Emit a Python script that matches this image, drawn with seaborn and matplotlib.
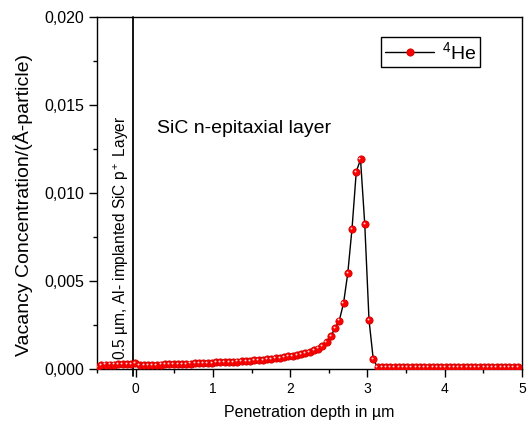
import numpy as np
import matplotlib
matplotlib.use("Agg")
import matplotlib.pyplot as plt
import matplotlib.transforms as mtransforms
from matplotlib.ticker import MultipleLocator, FuncFormatter
import seaborn as sns

# SRIM depth bins (0.055 um each), shifted by the 0.5 um p+ layer
depth_um = np.round(-0.5 + 0.055 * np.arange(100), 3)

vacancy = [
    0.00012, 0.00024, 0.00025, 0.00025, 0.00025, 0.00026, 0.00026, 0.00026, 0.00027, 0.00036,
    0.00020, 0.00021, 0.00022, 0.00023, 0.00024, 0.00025, 0.00026, 0.00027, 0.00028, 0.00029,
    0.00030, 0.00030, 0.00031, 0.00032, 0.00033, 0.00034, 0.00035, 0.00036, 0.00037, 0.00038,
    0.00039, 0.00040, 0.00041, 0.00042, 0.00044, 0.00045, 0.00047, 0.00049, 0.00051, 0.00053,
    0.00055, 0.00058, 0.00061, 0.00064, 0.00067, 0.00071, 0.00075, 0.00080, 0.00085, 0.00091,
    0.00098, 0.00106, 0.00116, 0.00130, 0.00155, 0.00188, 0.00231, 0.00275, 0.00373, 0.00544,
    0.00797, 0.01121, 0.01191, 0.00822, 0.00278, 0.00055, 0.00010, 0.00010, 0.00010, 0.00010,
    0.00010, 0.00010, 0.00010, 0.00010, 0.00010, 0.00010, 0.00010, 0.00010, 0.00010, 0.00010,
    0.00010, 0.00010, 0.00010, 0.00010, 0.00010, 0.00010, 0.00010, 0.00010, 0.00010, 0.00010,
    0.00010, 0.00010, 0.00010, 0.00010, 0.00010, 0.00010, 0.00010, 0.00010, 0.00010, 0.00010,
]

series_label = "$^4$He"
x_label = "Penetration depth in µm"
y_label = "Vacancy Concentration/(Å-particle)"
layer_text = "SiC n-epitaxial layer"
implant_text = "0.5 µm, Al- implanted SiC p$^+$ Layer"
boundary_um = -0.04

sns.set_style("ticks")
plt.rcParams["font.family"] = ["Liberation Sans", "DejaVu Sans"]
plt.rcParams["mathtext.fontset"] = "custom"
plt.rcParams["mathtext.rm"] = "Liberation Sans"
plt.rcParams["mathtext.it"] = "Liberation Sans:italic"
for key in ["text.color", "axes.labelcolor", "xtick.color", "ytick.color", "axes.edgecolor"]:
    plt.rcParams[key] = "black"

fig = plt.figure(figsize=(5.29, 4.23), dpi=100)
ax = fig.add_axes([0.1834, 0.1277, 0.8034, 0.8321])

sns.lineplot(x=depth_um, y=vacancy, ax=ax, color="black", linewidth=1.0,
             marker="o", markersize=5.2, markerfacecolor="#ff0000",
             markeredgecolor="#d00000", markeredgewidth=0.6,
             label=series_label, zorder=3)

# small specular highlights on the spheres
hl = ax.transData + mtransforms.ScaledTranslation(-0.8 / 72, 0.8 / 72, fig.dpi_scale_trans)
ax.plot(depth_um, vacancy, linestyle="none", marker="o", markersize=1.4,
        markerfacecolor="white", markeredgecolor="none", alpha=0.85,
        transform=hl, zorder=4)

ax.axvline(boundary_um, ymin=-0.02, ymax=1, color="black", linewidth=1.3,
           clip_on=False, zorder=2)

ax.set_xlim(-0.5, 5)
ax.set_ylim(0, 0.020)
ax.xaxis.set_major_locator(MultipleLocator(1))
ax.xaxis.set_minor_locator(MultipleLocator(0.5))
ax.yaxis.set_major_locator(MultipleLocator(0.005))
ax.yaxis.set_minor_locator(MultipleLocator(0.0025))
ax.yaxis.set_major_formatter(FuncFormatter(lambda v, p: f"{v:.3f}".replace(".", ",")))

ax.tick_params(axis="both", which="both", direction="out", top=False, right=False,
               color="black", labelcolor="black", width=1.0)
ax.tick_params(axis="both", which="major", length=6)
ax.tick_params(axis="both", which="minor", length=3)
ax.tick_params(axis="x", labelsize=10)
ax.tick_params(axis="y", labelsize=11.5)

for s in ax.spines.values():
    s.set_visible(True)
    s.set_color("black")
    s.set_linewidth(1.0)

ax.set_xlabel(x_label, fontsize=11.5, labelpad=6, color="black")
ax.set_ylabel(y_label, fontsize=14, color="black")
ax.yaxis.set_label_coords(-0.15, 0.465)

ax.text(0.27, 0.01341, layer_text, fontsize=14, ha="left", va="baseline", color="black")
ax.text(-0.19, 0.0005, implant_text, fontsize=11.2, rotation=90,
        ha="center", va="bottom", color="black")

leg = ax.legend(loc="upper right", bbox_to_anchor=(0.901, 0.943), borderaxespad=0,
                fontsize=14, frameon=True, fancybox=False, framealpha=1,
                edgecolor="black", handlelength=2.5, handletextpad=0.4,
                borderpad=0.2)
leg.get_frame().set_linewidth(1.0)
for t in leg.get_texts():
    t.set_color("black")

fig.savefig("out.png", dpi=100)
